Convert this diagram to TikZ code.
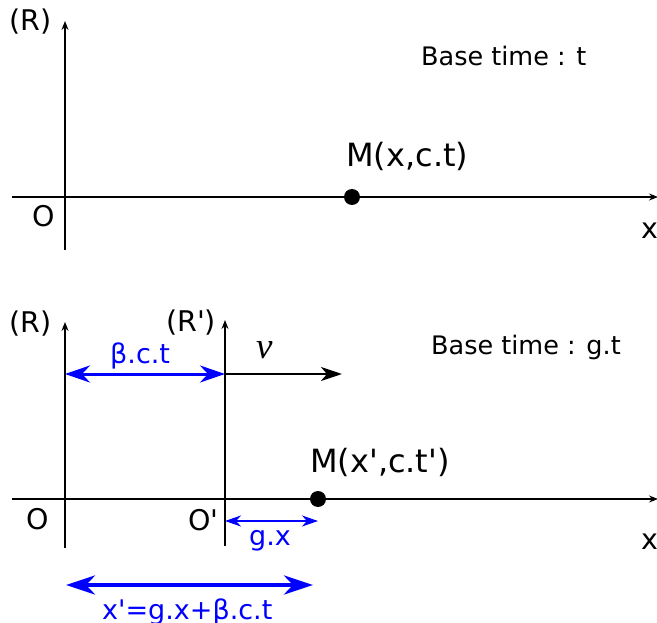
\documentclass[tikz,border=0pt]{standalone}
\usepackage{fontspec}
\setmainfont{DejaVu Sans}[Ligatures=TeXOff]
\newfontfamily\speedfont{Liberation Serif}
\usepackage{tikz}
\usetikzlibrary{arrows.meta, positioning, calc}
\definecolor{myblue}{RGB}{0,0,255}
\definecolor{mydark}{RGB}{0,0,0}
\tikzset{
  axis/.style={-{Stealth[length=9pt, width=7pt, inset=3pt]}, line width=1.2pt, color=mydark},
  txt/.style={font=\fontsize{25.5}{30}\selectfont, inner sep=0pt, anchor=base west},
  axtxt/.style={txt, font=\fontsize{28.5}{34}\selectfont},
  bigtxt/.style={font=\fontsize{32}{38}\selectfont, inner sep=0pt, anchor=base west},
  bluetxt/.style={txt, font=\fontsize{27}{32}\selectfont, text=myblue},
  mdot/.style={circle, fill=mydark, minimum size=16pt, inner sep=0pt},
  dist/.style={{Stealth[length=25pt, width=17pt, inset=8pt]}-{Stealth[length=25pt, width=17pt, inset=8pt]}, line width=3pt, color=myblue},
  smalldist/.style={{Stealth[length=16pt, width=11pt, inset=5pt]}-{Stealth[length=16pt, width=11pt, inset=5pt]}, line width=2.2pt, color=myblue},
  bigdist/.style={{Stealth[length=29pt, width=19pt, inset=9pt]}-{Stealth[length=29pt, width=19pt, inset=9pt]}, line width=4pt, color=myblue},
  speed/.style={-{Stealth[length=21pt, width=14pt, inset=6pt]}, line width=2.5pt, color=mydark}
}
\begin{document}
\begin{tikzpicture}[x=1pt, y=-1pt]
  \useasboundingbox (0,0) rectangle (657,623);

  % Frame R, base time t
  \coordinate (Rbot) at (65,250);
  \coordinate (Rtop) at (65,21);
  \coordinate (xw) at (12,197);
  \coordinate (xe) at (658,197);
  \draw[axis] (Rbot) -- (Rtop);
  \draw[axis] (xw) -- (xe);
  \node[mdot] (M) at (352,197) {};
  \node[axtxt] (R) at (9,31) {(R)};
  \node[axtxt] (O) at (32,227) {O};
  \node[axtxt] (xlbl) at (641,239) {x};
  \node[bigtxt] (Mlbl) at (346,167) {M(x,c.t)};
  \node[txt] (base) at (421,66) {Base time : t};

  % Frame R' moving at v, base time g.t
  \coordinate (Rbotb) at (65,548);
  \coordinate (Rtopb) at (65,322);
  \coordinate (Rpbot) at (225,546);
  \coordinate (Rptop) at (225,320);
  \coordinate (xwb) at (12,499);
  \coordinate (xeb) at (658,499);
  \draw[axis] (Rbotb) -- (Rtopb);
  \draw[axis] (Rpbot) -- (Rptop);
  \draw[axis] (xwb) -- (xeb);
  \node[mdot] (Mb) at (318,499) {};
  \node[axtxt] (Rb) at (9,333) {(R)};
  \node[axtxt] (Rp) at (166,331) {(R')};
  \node[axtxt] (Ob) at (26,529) {O};
  \node[axtxt] (Op) at (188,530) {O'};
  \node[axtxt] (xlblb) at (641,549) {x};
  \node[bigtxt] (Mlblb) at (310,472) {M(x',c.t')};
  \node[txt] (baseb) at (431,355) {Base time : g.t};

  % distances
  \coordinate (bA) at (65,374);
  \coordinate (bB) at (225,374);
  \coordinate (vB) at (342,374);
  \draw[dist] (bA) -- (bB);
  \draw[speed] (bB) -- (vB);
  \node[bluetxt] (bct) at (110,363) {β.c.t};
  \node[font=\fontsize{37}{42}\speedfont\itshape, inner sep=0pt, anchor=base west] (v) at (256,358) {v};
  \coordinate (gA) at (225,521);
  \coordinate (gB) at (318,521);
  \draw[smalldist] (gA) -- (gB);
  \node[bluetxt] (gx) at (249,545) {g.x};
  \coordinate (tA) at (66,585);
  \coordinate (tB) at (313,585);
  \draw[bigdist] (tA) -- (tB);
  \node[bluetxt] (xp) at (102,619) {x'=g.x+β.c.t};
\end{tikzpicture}
\end{document}
